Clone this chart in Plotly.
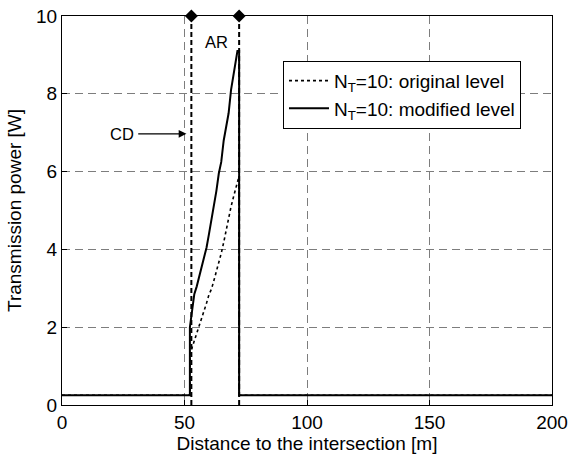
import plotly.graph_objects as go

# Transmission power along the approach to the intersection
dist_original = [0, 52.2, 52.2, 53, 54, 55, 56, 57, 58, 59, 60, 61, 62, 63, 64, 65,
                 66, 67, 68, 69, 70, 71, 72, 72.3, 72.3, 200]
power_original = [0.25, 0.25, 1.3, 1.45, 1.65, 1.82, 2.0, 2.2, 2.4, 2.62, 2.84, 2.98,
                  3.2, 3.42, 3.65, 3.9, 4.18, 4.5, 4.82, 5.1, 5.35, 5.62, 5.82, 5.85,
                  0.25, 0.25]

dist_modified = [0, 52.2, 52.2, 53, 54, 55, 56, 57, 58, 59, 60, 61, 62, 63, 64, 65,
                 66, 67, 68, 69, 70, 71, 71.6, 72.3, 72.3, 200]
power_modified = [0.25, 0.25, 2.0, 2.45, 2.85, 3.05, 3.3, 3.5, 3.75, 4.05, 4.4, 4.75,
                  5.2, 5.5, 5.95, 6.25, 6.8, 7.15, 7.5, 8.1, 8.45, 8.85, 9.1, 9.1,
                  0.25, 0.25]

# Area boundaries (start and end of the AR zone)
ar_bounds = [52.8, 72.3]
cd_pos = 50.8

x_ticks = [0, 50, 100, 150, 200]
y_ticks = [0, 2, 4, 6, 8, 10]

FONT = "Liberation Sans, Arial, sans-serif"
FS = 19

fig = go.Figure()

for xb in ar_bounds:
    fig.add_trace(go.Scatter(
        x=[xb, xb], y=[0, 10], mode="lines",
        line=dict(color="black", width=2, dash="5px,3px"),
        showlegend=False, hoverinfo="skip"))

fig.add_trace(go.Scatter(
    x=ar_bounds, y=[10, 10], mode="markers",
    marker=dict(symbol="diamond", size=10, color="black"),
    cliponaxis=False, showlegend=False, hoverinfo="skip"))

fig.add_trace(go.Scatter(
    x=dist_original, y=power_original, mode="lines",
    name="N<sub>T</sub>=10: original level",
    line=dict(color="black", width=1.6, dash="dot")))

fig.add_trace(go.Scatter(
    x=dist_modified, y=power_modified, mode="lines",
    name="N<sub>T</sub>=10: modified level",
    line=dict(color="black", width=2)))

fig.add_annotation(x=cd_pos, y=6.97, ax=30.5, ay=6.97, xref="x", yref="y",
                   axref="x", ayref="y", text="", showarrow=True,
                   arrowhead=2, arrowsize=1.3, arrowwidth=1.2, arrowcolor="black")
fig.add_annotation(x=24.5, y=6.97, xref="x", yref="y", text="CD",
                   showarrow=False, font=dict(size=16.5, color="black", family=FONT))
fig.add_annotation(x=63, y=9.33, xref="x", yref="y", text="AR",
                   showarrow=False, font=dict(size=16.5, color="black", family=FONT))

axis_common = dict(
    showline=True, linecolor="black", linewidth=1, mirror=True,
    ticks="inside", ticklen=5, tickcolor="black",
    showgrid=True, gridcolor="rgb(125,125,125)", gridwidth=1, griddash="8px,5px",
    zeroline=False, automargin=False,
    tickfont=dict(size=FS, color="black", family=FONT),
)

fig.update_xaxes(range=[0, 200], tickvals=x_ticks,
                 title=dict(text="Distance to the intersection [m]",
                            font=dict(size=FS, color="black", family=FONT), standoff=0),
                 **axis_common)
fig.update_yaxes(range=[0, 10], tickvals=y_ticks,
                 title=dict(text="Transmission power [W]",
                            font=dict(size=FS, color="black", family=FONT), standoff=9),
                 **axis_common)

fig.update_layout(
    width=571, height=454,
    margin=dict(l=62, r=19, t=16, b=49, autoexpand=False),
    plot_bgcolor="white", paper_bgcolor="white",
    font=dict(family=FONT, size=FS, color="black"),
    legend=dict(x=0.451, y=0.885, xanchor="left", yanchor="top",
                bgcolor="white", bordercolor="black", borderwidth=1,
                font=dict(size=FS, color="black", family=FONT),
                tracegroupgap=0, itemwidth=40),
)

fig.write_html("out.html")
